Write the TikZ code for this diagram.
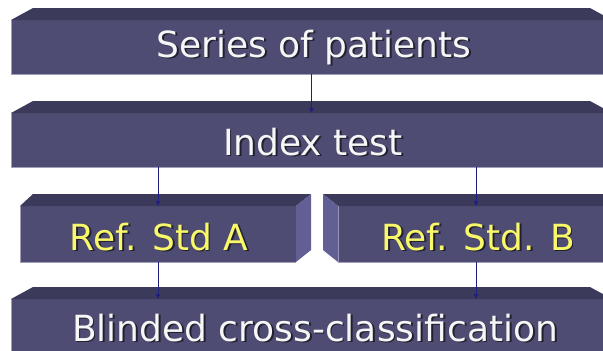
\documentclass[tikz,border=0pt]{standalone}
\usepackage{fontspec}
\setmainfont{DejaVu Sans}
\usetikzlibrary{arrows.meta,calc}
\definecolor{frontc}{HTML}{4E4C72}
\definecolor{topc}{HTML}{3C3A5A}
\definecolor{sidec}{HTML}{615F93}
\definecolor{edgec}{HTML}{A09EBA}
\definecolor{arrc}{HTML}{1F1F80}
\definecolor{txtw}{HTML}{F6F6F6}
\definecolor{txty}{HTML}{F8F86A}
\definecolor{shadc}{HTML}{202030}
\tikzset{
  front/.style={rectangle, fill=frontc, inner sep=0pt, outer sep=0pt},
  topface/.style={fill=topc},
  sideface/.style={fill=sidec},
  edge/.style={draw=edgec, line width=0.7pt},
  arr/.style={draw=arrc, line width=0.8pt, -{Triangle[length=5pt,width=4.5pt]}},
  lbl/.style={anchor=base, inner sep=0pt, font=\fontsize{36}{40}\selectfont},
}
\newcommand{\shtext}[2]{% colour, text (with drop shadow)
  \makebox[0pt][l]{\hspace{1.8pt}\raisebox{-1.8pt}{\color{shadc}#2}}\textcolor{#1}{#2}}
\begin{document}
\begin{tikzpicture}[x=1pt,y=-1pt]
\useasboundingbox (0,0) rectangle (603,351);
\fill[white] (0,0) rectangle (603,351);
\clip (0,0) rectangle (603,351);
% boxes (front faces)
\node[front, minimum width=601pt, minimum height=54pt] (b1) at (311.5,47) {};
\node[front, minimum width=601pt, minimum height=54pt] (b2) at (311.5,140) {};
\node[front, minimum width=276pt, minimum height=56pt] (bA) at (158,234) {};
\node[front, minimum width=292pt, minimum height=56pt] (bB) at (484,234) {};
\node[front, minimum width=601pt, minimum height=56pt] (b4) at (311.5,327) {};
% light lower / left edges
\foreach \b in {b1,b2,bA,bB}{
  \draw[edge] (\b.north west) -- (\b.south west) -- (\b.south east);
}
\draw[edge] (b4.north west) -- (b4.south west);
% top faces
\foreach \b in {b1,b2,b4}{
  \fill[topface] (\b.north west) -- ++(22,-12) -- ($(\b.north east)+(-22,-12)$) -- (\b.north east) -- cycle;
}
\fill[topface] (bA.north west) -- ++(13,-12) -- ($(bA.north east)+(15,-12)$) -- (bA.north east) -- cycle;
\fill[sideface] (bA.north east) -- ++(15,-12) -- ++(0,56) -- (bA.south east) -- cycle;
\fill[topface] (bB.north west) -- ++(-15,-12) -- ($(bB.north east)+(-13,-12)$) -- (bB.north east) -- cycle;
\fill[sideface] (bB.north west) -- ++(-15,-12) -- ++(0,56) -- (bB.south west) -- cycle;
% labels
\node[lbl] (t1) at (314,57) {\shtext{txtw}{Series of patients}};
\node[lbl] (t2) at (313,155) {\shtext{txtw}{Index test}};
\node[lbl] (tA) at (159,250) {\shtext{txty}{Ref. Std A}};
\node[lbl] (tB) at (478,250) {\shtext{txty}{Ref. Std. B}};
\node[lbl] (t4) at (315,341) {\shtext{txtw}{Blinded cross-classification}};
% connectors
\coordinate (rB) at (476,206);
\draw[arr] (b1.south) -- (b2.north);
\draw[arr] (bA.north |- b2.south) -- (bA.north);
\draw[arr] (rB |- b2.south) -- (rB);
\draw[arr] (bA.south) -- (bA.south |- b4.north);
\draw[arr] (rB |- bB.south) -- (rB |- b4.north);
\end{tikzpicture}
\end{document}
